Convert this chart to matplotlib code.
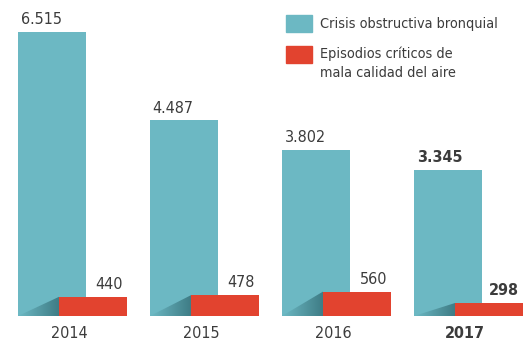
import numpy as np
import matplotlib
matplotlib.use('Agg')
import matplotlib.pyplot as plt
from matplotlib.patches import Rectangle, Polygon

plt.rcParams['font.family'] = ['DejaVu Sans']

years = ['2014', '2015', '2016', '2017']
crisis = [6515, 4487, 3802, 3345]
episodios = [440, 478, 560, 298]
crisis_labels = ['6.515', '4.487', '3.802', '3.345']
episodios_labels = ['440', '478', '560', '298']

teal = '#6cb8c3'
red = '#e2432f'
shade = '#3f7d86'
txt = '#3c3c3c'

fig = plt.figure(figsize=(5.26, 3.41), dpi=100)
ax = fig.add_axes([0, 25 / 341, 1, 316 / 341])
ax.set_xlim(-52 / 132, 474 / 132)
ax.set_ylim(0, 7250)
ax.axis('off')

x = np.arange(len(years))
w = 68 / 132
off = 41 / 132

ax.bar(x, crisis, width=w, color=teal, zorder=1)
ax.bar(x + off, episodios, width=w, color=red, zorder=3)

# sombra triangular entre barras
cmap = matplotlib.colors.LinearSegmentedColormap.from_list('sh', [teal, shade])
for i in range(len(years)):
    left = x[i] - w / 2
    rl = x[i] + off - w / 2
    tri = Polygon([(left, 0), (rl, episodios[i]), (rl, 0)], closed=True,
                  facecolor='none', edgecolor='none')
    ax.add_patch(tri)
    grad = np.linspace(0, 1, 50).reshape(1, -1)
    im = ax.imshow(grad, extent=(left, rl, 0, episodios[i]), cmap=cmap,
                   aspect='auto', zorder=2)
    im.set_clip_path(tri)

for i in range(len(years)):
    bold = 'bold' if i == len(years) - 1 else 'normal'
    ax.text(x[i] - w / 2 + 0.02, crisis[i] + 110, crisis_labels[i], ha='left',
            va='bottom', fontsize=11.5, color=txt, fontweight=bold,
            fontstretch='condensed')
    ax.text(x[i] + off + w / 2 - 0.03, episodios[i] + 110, episodios_labels[i],
            ha='right', va='bottom', fontsize=11.5, color=txt, fontweight=bold,
            fontstretch='condensed')
    fig.text((x[i] * 132 + 69) / 526, 1 - 333 / 341, years[i], ha='center',
             va='center', fontsize=11.5, color=txt, fontweight=bold,
             fontstretch='condensed')

# leyenda
fig.patches.append(Rectangle((286 / 526, 1 - 32 / 341), 26 / 526, 17 / 341,
                             transform=fig.transFigure, color=teal))
fig.patches.append(Rectangle((286 / 526, 1 - 63 / 341), 26 / 526, 17 / 341,
                             transform=fig.transFigure, color=red))
leg = dict(fontsize=10.4, color=txt, va='center', fontstretch='condensed')
fig.text(320 / 526, 1 - 24 / 341, 'Crisis obstructiva bronquial', **leg)
fig.text(320 / 526, 1 - 54 / 341, 'Episodios críticos de', **leg)
fig.text(320 / 526, 1 - 73 / 341, 'mala calidad del aire', **leg)

fig.savefig('out.png', dpi=100)
